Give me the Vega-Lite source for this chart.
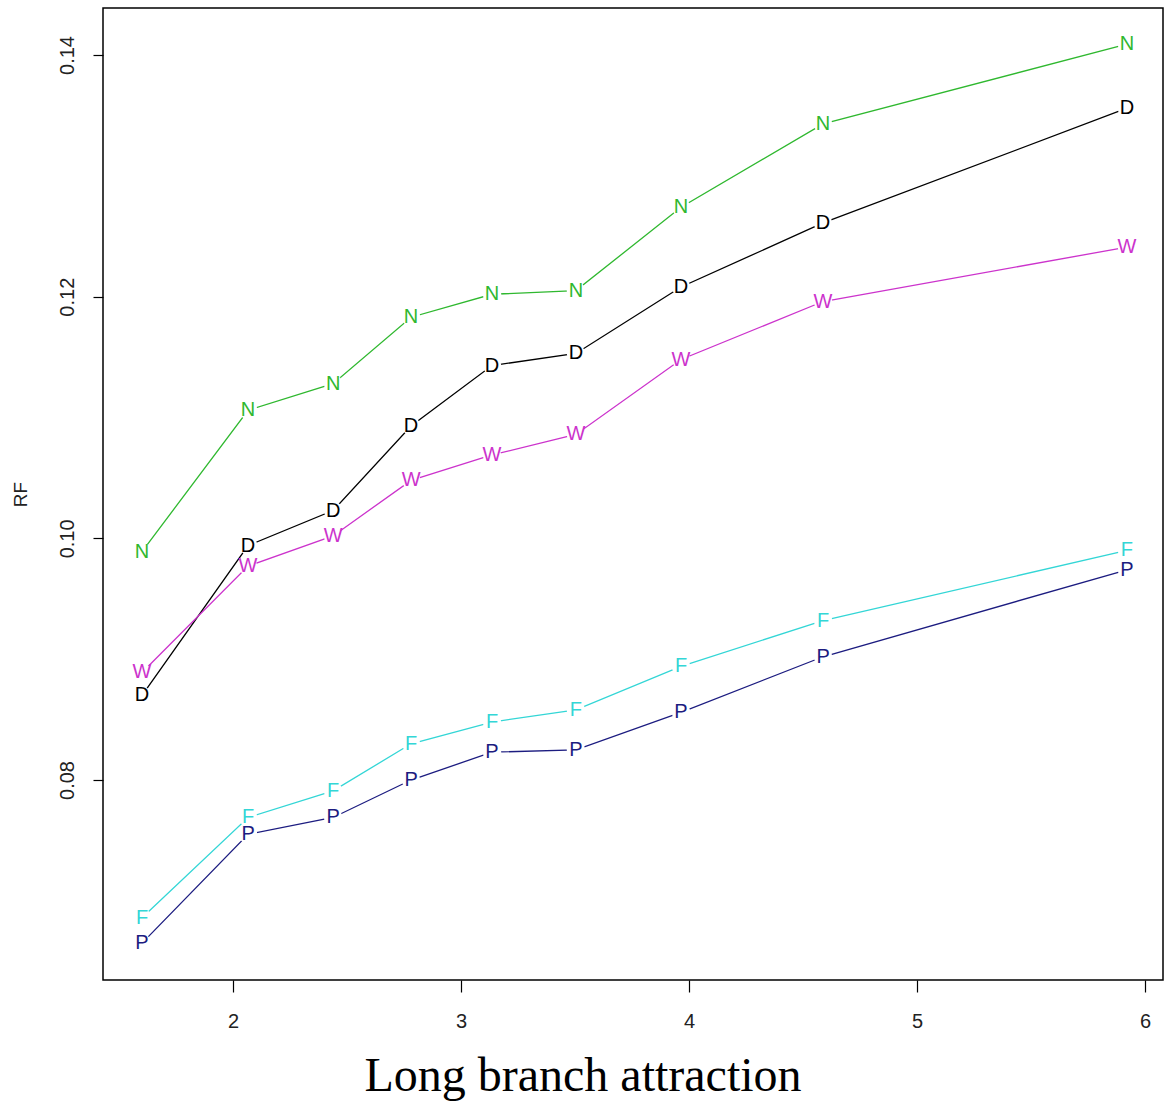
{
  "$schema": "https://vega.github.io/schema/vega-lite/v6.json",
  "width": 1060,
  "height": 972,
  "autosize": {"type": "none"},
  "padding": {"left": 103, "top": 8, "right": 2, "bottom": 129},
  "background": "white",
  "config": {
    "view": {"stroke": "#000000", "strokeWidth": 1.5},
    "font": "Liberation Sans"
  },
  "title": {
    "text": "Long branch attraction",
    "orient": "bottom",
    "font": "Liberation Serif",
    "fontSize": 48,
    "fontWeight": "normal",
    "color": "#000000",
    "anchor": "middle",
    "frame": "group",
    "offset": 22,
    "dx": -50
  },
  "data": {
    "values": [
      {"x": 1.601, "rf": 0.0989, "s": "N"},
      {"x": 2.066, "rf": 0.1106, "s": "N"},
      {"x": 2.439, "rf": 0.1128, "s": "N"},
      {"x": 2.781, "rf": 0.1183, "s": "N"},
      {"x": 3.136, "rf": 0.1202, "s": "N"},
      {"x": 3.504, "rf": 0.1205, "s": "N"},
      {"x": 3.965, "rf": 0.1274, "s": "N"},
      {"x": 4.588, "rf": 0.1343, "s": "N"},
      {"x": 5.921, "rf": 0.1409, "s": "N"},
      {"x": 1.601, "rf": 0.0870, "s": "D"},
      {"x": 2.066, "rf": 0.0994, "s": "D"},
      {"x": 2.439, "rf": 0.1023, "s": "D"},
      {"x": 2.781, "rf": 0.1093, "s": "D"},
      {"x": 3.136, "rf": 0.1143, "s": "D"},
      {"x": 3.504, "rf": 0.1153, "s": "D"},
      {"x": 3.965, "rf": 0.1208, "s": "D"},
      {"x": 4.588, "rf": 0.1261, "s": "D"},
      {"x": 5.921, "rf": 0.1356, "s": "D"},
      {"x": 1.601, "rf": 0.0889, "s": "W"},
      {"x": 2.066, "rf": 0.0977, "s": "W"},
      {"x": 2.439, "rf": 0.1002, "s": "W"},
      {"x": 2.781, "rf": 0.1048, "s": "W"},
      {"x": 3.136, "rf": 0.1069, "s": "W"},
      {"x": 3.504, "rf": 0.1086, "s": "W"},
      {"x": 3.965, "rf": 0.1148, "s": "W"},
      {"x": 4.588, "rf": 0.1196, "s": "W"},
      {"x": 5.921, "rf": 0.1241, "s": "W"},
      {"x": 1.601, "rf": 0.0686, "s": "F"},
      {"x": 2.066, "rf": 0.0769, "s": "F"},
      {"x": 2.439, "rf": 0.0791, "s": "F"},
      {"x": 2.781, "rf": 0.0830, "s": "F"},
      {"x": 3.136, "rf": 0.0848, "s": "F"},
      {"x": 3.504, "rf": 0.0858, "s": "F"},
      {"x": 3.965, "rf": 0.0894, "s": "F"},
      {"x": 4.588, "rf": 0.0932, "s": "F"},
      {"x": 5.921, "rf": 0.0990, "s": "F"},
      {"x": 1.601, "rf": 0.0665, "s": "P"},
      {"x": 2.066, "rf": 0.0755, "s": "P"},
      {"x": 2.439, "rf": 0.0769, "s": "P"},
      {"x": 2.781, "rf": 0.0800, "s": "P"},
      {"x": 3.136, "rf": 0.0823, "s": "P"},
      {"x": 3.504, "rf": 0.0825, "s": "P"},
      {"x": 3.965, "rf": 0.0856, "s": "P"},
      {"x": 4.588, "rf": 0.0902, "s": "P"},
      {"x": 5.921, "rf": 0.0974, "s": "P"}
    ]
  },
  "encoding": {
    "x": {
      "field": "x",
      "type": "quantitative",
      "scale": {"domain": [1.4298, 6.079], "nice": false, "zero": false},
      "axis": {
        "title": null,
        "values": [2, 3, 4, 5, 6],
        "domain": false,
        "grid": false,
        "tickSize": 12,
        "tickColor": "#000000",
        "tickWidth": 1.2,
        "labelFont": "Liberation Sans",
        "labelFontSize": 20,
        "labelColor": "#222222",
        "labelPadding": 19
      }
    },
    "y": {
      "field": "rf",
      "type": "quantitative",
      "scale": {"domain": [0.06345, 0.14389], "nice": false, "zero": false},
      "axis": {
        "title": "RF",
        "titleFont": "Liberation Sans",
        "titleFontSize": 19,
        "titleFontWeight": "normal",
        "titleColor": "#222222",
        "titleX": -83,
        "titleY": 486,
        "titleAngle": -90,
        "titleAlign": "center",
        "titleBaseline": "middle",
        "values": [0.08, 0.10, 0.12, 0.14],
        "format": ".2f",
        "domain": false,
        "grid": false,
        "tickSize": 10,
        "tickColor": "#000000",
        "tickWidth": 1.2,
        "labelFont": "Liberation Sans",
        "labelFontSize": 20,
        "labelColor": "#222222",
        "labelAngle": -90,
        "labelAlign": "center",
        "labelBaseline": "bottom",
        "labelPadding": 16
      }
    },
    "color": {
      "field": "s",
      "type": "nominal",
      "scale": {
        "domain": ["N", "D", "W", "F", "P"],
        "range": ["#2fb82f", "#000000", "#cc33cc", "#33d6d6", "#1c1c80"]
      },
      "legend": null
    }
  },
  "layer": [
    {"mark": {"type": "line", "strokeWidth": 1.3}},
    {
      "mark": {"type": "point", "filled": true, "opacity": 1, "size": 340, "shape": "circle"},
      "encoding": {"color": {"value": "white"}}
    },
    {
      "mark": {"type": "text", "fontSize": 20, "font": "Liberation Sans", "align": "center", "baseline": "middle"},
      "encoding": {"text": {"field": "s"}}
    }
  ]
}
